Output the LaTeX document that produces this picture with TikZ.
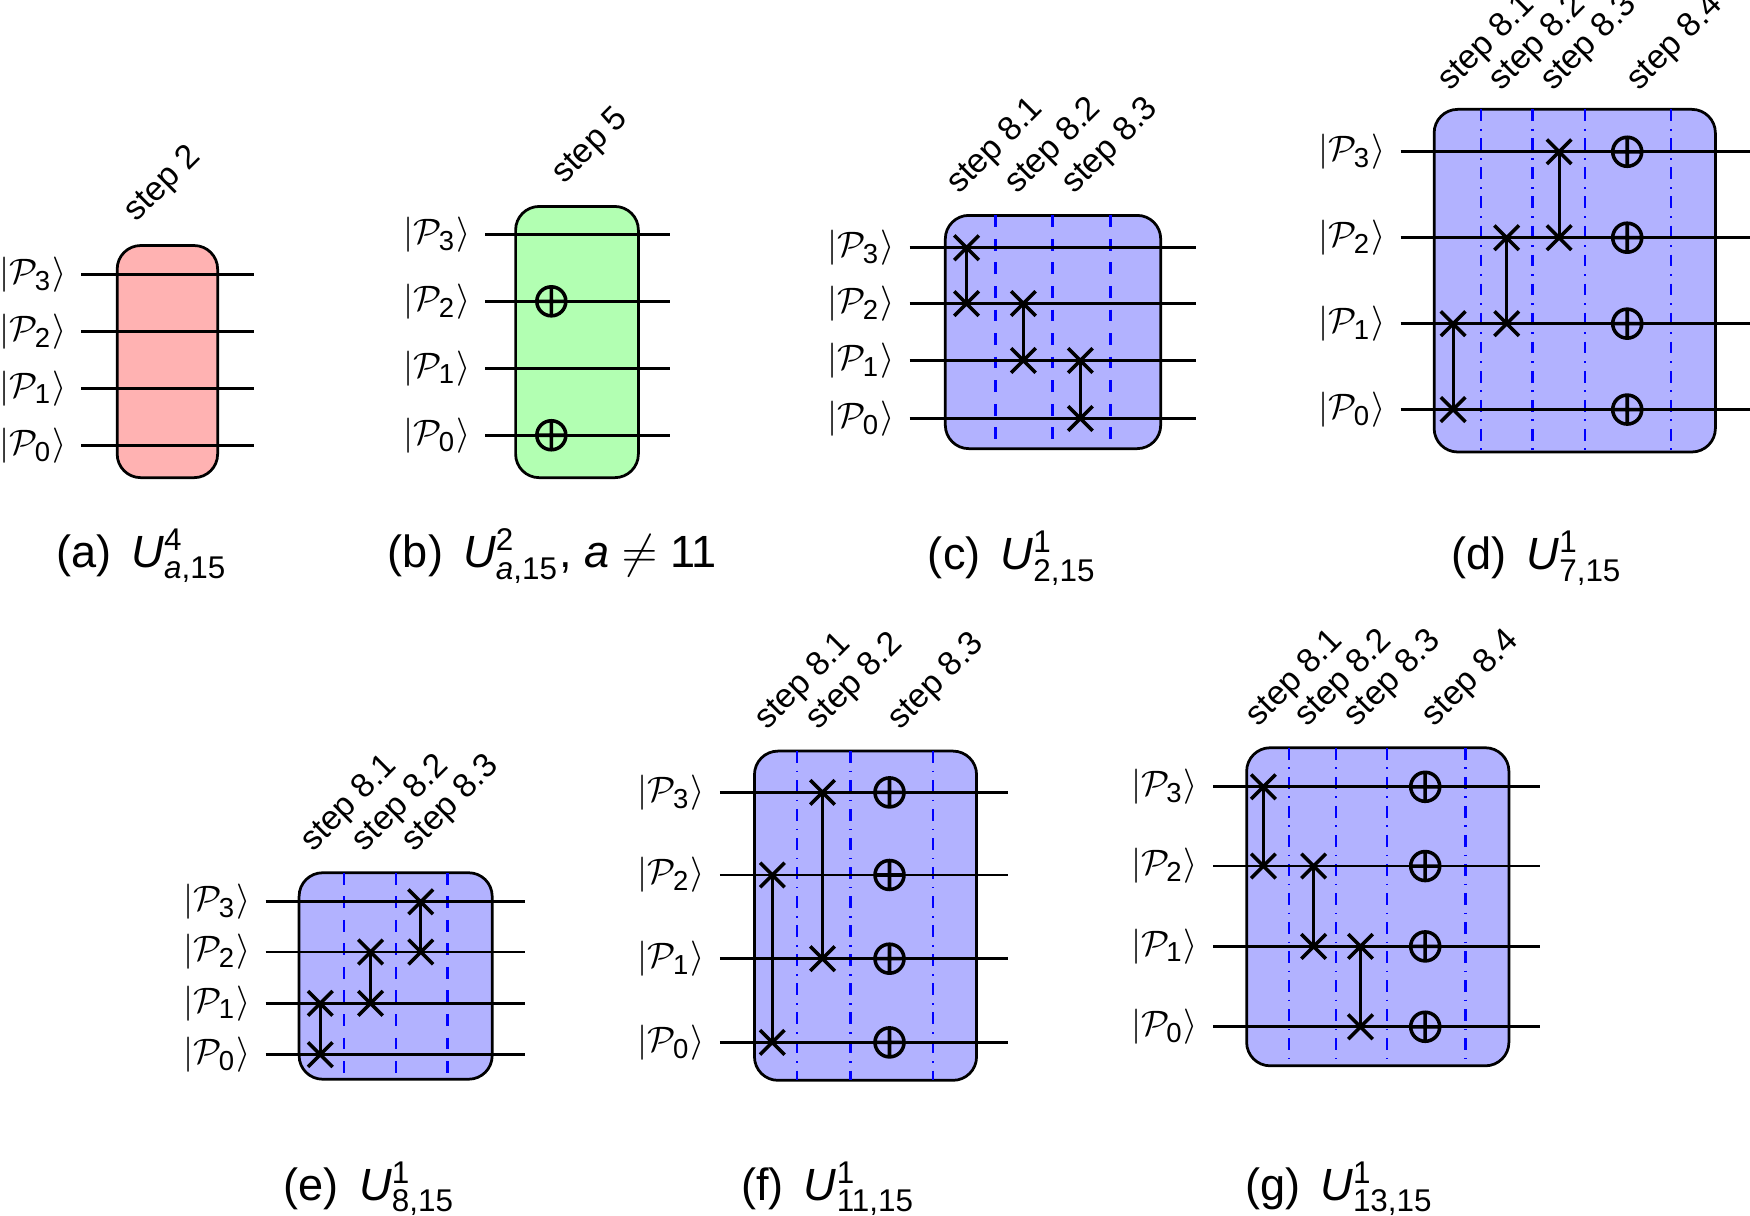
\documentclass[tikz,border=0pt]{standalone}
\usepackage{fontspec}
\setmainfont{Liberation Sans}
\begin{document}
\begin{tikzpicture}[x=0.01cm,y=-0.01cm,
  wire/.style={line width=0.7pt},
  boxr/.style={draw,line width=0.7pt,rounded corners=6pt,fill=red!30},
  boxg/.style={draw,line width=0.7pt,rounded corners=6pt,fill=green!30},
  boxb/.style={draw,line width=0.7pt,rounded corners=6pt,fill=blue!30},
  sep/.style={blue,dashed,line width=0.6pt},
  sepd/.style={blue,dash dot,line width=0.6pt},
  lbl/.style={anchor=south west,rotate=45,inner sep=1pt,font=\fontsize{8.6}{10}\selectfont},
  ket/.style={anchor=east,inner sep=2pt,font=\fontsize{9}{11}\selectfont},
  captxt/.style={font=\fontsize{11.5}{14}\selectfont}]
\useasboundingbox (0,0) rectangle (1568,1089);
\newcommand\kt[1]{$|\mathcal{P}_{\mbox{\fontsize{7}{7}\selectfont #1}}\rangle$}
\newcommand\Uo[2]{\textit{U}$^{\mbox{\fontsize{8}{8}\selectfont #1}}_{\mbox{\fontsize{8}{8}\selectfont #2}}$}
\newcommand\swp[3]{\draw[wire] (#1,#2)--(#1,#3);
  \foreach \yy in {#2,#3}{\draw[line width=0.9pt] (#1-11,\yy-11)--(#1+11,\yy+11) (#1-11,\yy+11)--(#1+11,\yy-11);}}
\newcommand\opl[2]{\draw[line width=0.9pt] (#1,#2) circle (13) (#1-13,#2)--(#1+13,#2) (#1,#2-13)--(#1,#2+13);}
\newcommand\wires[6]{\foreach \yy/\k in {#1/3,#2/2,#3/1,#4/0}{\draw[wire] (#5,\yy)--(#6,\yy); \node[ket] at (#5-6,\yy) {\kt{\k}};}}
% (a)
\draw[boxr] (105,220) rectangle (195,428);
\wires{246}{297}{348}{399}{73}{228}
\node[lbl] at (127,210) {step 2};
\node[captxt] at (127,498) {(a)\, \Uo{4}{\textit{a},15}};
% (b)
\draw[boxg] (462,185) rectangle (572,428);
\wires{210}{270}{330}{390}{435}{600}
\opl{494}{270}\opl{494}{390}
\node[lbl] at (510,176) {step 5};
\node[captxt] at (495,498) {(b)\, \Uo{2}{\textit{a},15}, \textit{a} $\neq$ 11};
% (c)
\draw[boxb] (847,193) rectangle (1040,402);
\foreach \x in {892,943,995}{\draw[sep] (\x,193)--(\x,402);}
\wires{222}{272}{323}{375}{815}{1072}
\swp{866}{222}{272}\swp{917}{272}{323}\swp{968}{323}{375}
\node[lbl] at (864,185) {step 8.1};
\node[lbl] at (916,185) {step 8.2};
\node[lbl] at (967,185) {step 8.3};
\node[captxt] at (907,500) {(c)\, \Uo{1}{2,15}};
% (d)
\draw[boxb] (1285,98) rectangle (1537,405);
\foreach \x in {1327,1373,1420,1497}{\draw[sepd] (\x,98)--(\x,405);}
\wires{136}{213}{290}{367}{1255}{1568}
\swp{1302}{290}{367}\swp{1350}{213}{290}\swp{1397}{136}{213}
\foreach \yy in {136,213,290,367}{\opl{1458}{\yy}}
\node[lbl] at (1304,92) {step 8.1};
\node[lbl] at (1350,92) {step 8.2};
\node[lbl] at (1396,92) {step 8.3};
\node[lbl] at (1473,92) {step 8.4};
\node[captxt] at (1377,500) {(d)\, \Uo{1}{7,15}};
% (e)
\draw[boxb] (268,782) rectangle (441,967);
\foreach \x in {308,355,401}{\draw[sep] (\x,782)--(\x,967);}
\wires{808}{853}{899}{945}{238}{470}
\swp{287}{899}{945}\swp{332}{853}{899}\swp{377}{808}{853}
\node[lbl] at (285,774) {step 8.1};
\node[lbl] at (331,774) {step 8.2};
\node[lbl] at (376,774) {step 8.3};
\node[captxt] at (331,1065) {(e)\, \Uo{1}{8,15}};
% (f)
\draw[boxb] (676,673) rectangle (875,968);
\foreach \x in {714,762,836}{\draw[sepd] (\x,673)--(\x,968);}
\wires{710}{784}{859}{934}{645}{903}
\swp{692}{784}{934}\swp{737}{710}{859}
\foreach \yy in {710,784,859,934}{\opl{797}{\yy}}
\node[lbl] at (692,665) {step 8.1};
\node[lbl] at (738,665) {step 8.2};
\node[lbl] at (811,665) {step 8.3};
\node[captxt] at (742,1065) {(f)\, \Uo{1}{11,15}};
% (g)
\draw[boxb] (1117,670) rectangle (1352,955);
\foreach \x in {1155,1197,1243,1313}{\draw[sepd] (\x,670)--(\x,955);}
\wires{705}{776}{848}{920}{1087}{1380}
\swp{1132}{705}{776}\swp{1177}{776}{848}\swp{1219}{848}{920}
\foreach \yy in {705,776,848,920}{\opl{1277}{\yy}}
\node[lbl] at (1132,662) {step 8.1};
\node[lbl] at (1176,662) {step 8.2};
\node[lbl] at (1220,662) {step 8.3};
\node[lbl] at (1290,662) {step 8.4};
\node[captxt] at (1200,1065) {(g)\, \Uo{1}{13,15}};
\end{tikzpicture}
\end{document}
